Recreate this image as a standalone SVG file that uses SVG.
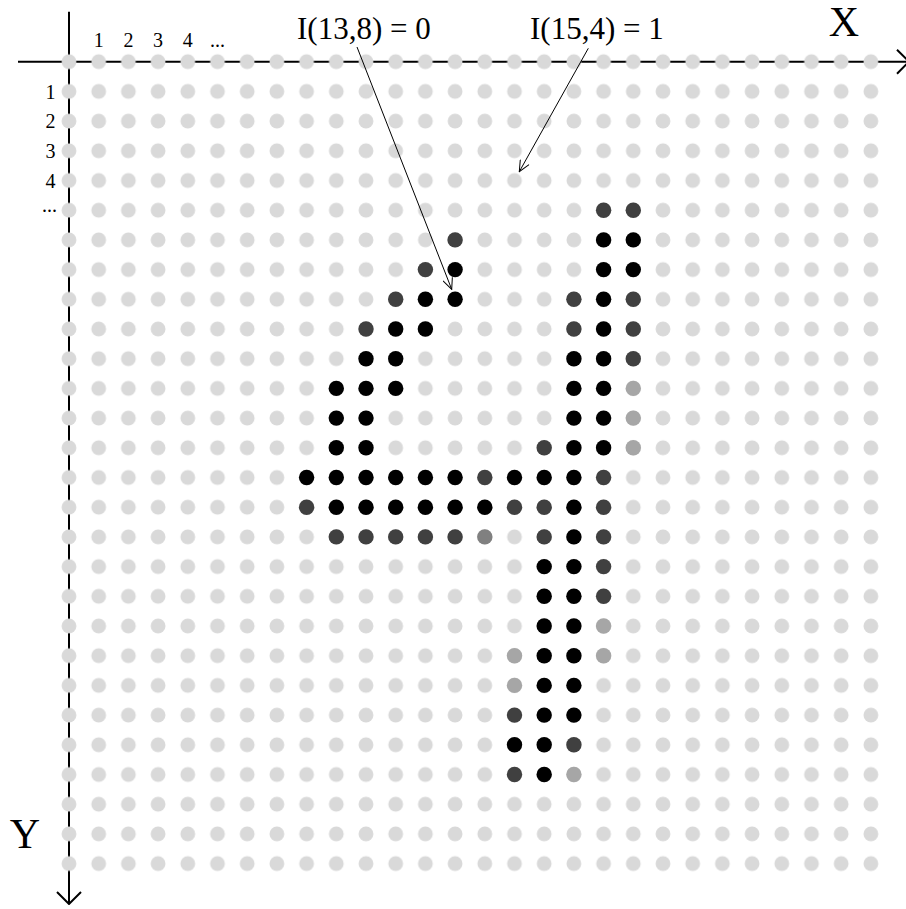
<svg xmlns="http://www.w3.org/2000/svg" width="906" height="909" viewBox="0 0 906 909">
<style>
.ax{stroke:#000;stroke-width:2;fill:none}
.ann{stroke:#000;stroke-width:1;fill:none}
.t{font-family:"Liberation Serif","Times New Roman",serif;fill:#000}
.sm{font-size:20px}
.mid{font-size:31px}
.big{font-size:42px}
.k{fill:#000}
.d{fill:#404040}
.m{fill:#a6a6a6}
.g{fill:#808080}
#pixels circle{r:7.7px}
</style>
<defs>
<pattern id="dot" patternUnits="userSpaceOnUse" x="54.15" y="46.85" width="29.7" height="29.7">
<circle cx="14.85" cy="14.85" r="7.4" fill="#d9d9d9"/>
</pattern>
<marker id="axhead" markerUnits="userSpaceOnUse" viewBox="0 0 14 26" refX="13" refY="13" markerWidth="14" markerHeight="26" orient="auto">
<path d="M1,1 L13,13 L1,25" fill="none" stroke="#000" stroke-width="2"/>
</marker>
<marker id="head" markerUnits="userSpaceOnUse" viewBox="0 0 13 11" refX="12" refY="5.5" markerWidth="13" markerHeight="11" orient="auto">
<path d="M1,0.5 L12,5.5 L1,10.5" fill="none" stroke="#000" stroke-width="1"/>
</marker>
</defs>
<rect width="906" height="909" fill="#fff"/>
<g id="axes">
<line class="ax" x1="18" y1="61.7" x2="909" y2="61.7" marker-end="url(#axhead)"/>
<line class="ax" x1="69" y1="11.7" x2="69" y2="904" marker-end="url(#axhead)"/>
</g>
<g id="grid">
<rect x="54.15" y="46.85" width="831.6" height="831.6" fill="url(#dot)"/>
</g>
<g id="pixels">
<circle class="d" cx="603.6" cy="210.2"/><circle class="d" cx="633.3" cy="210.2"/>
<circle class="d" cx="455.1" cy="239.9"/><circle class="k" cx="603.6" cy="239.9"/><circle class="k" cx="633.3" cy="239.9"/>
<circle class="d" cx="425.4" cy="269.6"/><circle class="k" cx="455.1" cy="269.6"/><circle class="k" cx="603.6" cy="269.6"/><circle class="k" cx="633.3" cy="269.6"/>
<circle class="d" cx="395.7" cy="299.3"/><circle class="k" cx="425.4" cy="299.3"/><circle class="k" cx="455.1" cy="299.3"/><circle class="d" cx="573.9" cy="299.3"/><circle class="k" cx="603.6" cy="299.3"/><circle class="d" cx="633.3" cy="299.3"/>
<circle class="d" cx="366" cy="329"/><circle class="k" cx="395.7" cy="329"/><circle class="k" cx="425.4" cy="329"/><circle class="d" cx="573.9" cy="329"/><circle class="k" cx="603.6" cy="329"/><circle class="d" cx="633.3" cy="329"/>
<circle class="k" cx="366" cy="358.7"/><circle class="k" cx="395.7" cy="358.7"/><circle class="k" cx="573.9" cy="358.7"/><circle class="k" cx="603.6" cy="358.7"/><circle class="d" cx="633.3" cy="358.7"/>
<circle class="k" cx="336.3" cy="388.4"/><circle class="k" cx="366" cy="388.4"/><circle class="k" cx="395.7" cy="388.4"/><circle class="k" cx="573.9" cy="388.4"/><circle class="k" cx="603.6" cy="388.4"/><circle class="m" cx="633.3" cy="388.4"/>
<circle class="k" cx="336.3" cy="418.1"/><circle class="k" cx="366" cy="418.1"/><circle class="k" cx="573.9" cy="418.1"/><circle class="k" cx="603.6" cy="418.1"/><circle class="m" cx="633.3" cy="418.1"/>
<circle class="k" cx="336.3" cy="447.8"/><circle class="k" cx="366" cy="447.8"/><circle class="d" cx="544.2" cy="447.8"/><circle class="k" cx="573.9" cy="447.8"/><circle class="k" cx="603.6" cy="447.8"/><circle class="m" cx="633.3" cy="447.8"/>
<circle class="k" cx="306.6" cy="477.5"/><circle class="k" cx="336.3" cy="477.5"/><circle class="k" cx="366" cy="477.5"/><circle class="k" cx="395.7" cy="477.5"/><circle class="k" cx="425.4" cy="477.5"/><circle class="k" cx="455.1" cy="477.5"/><circle class="d" cx="484.8" cy="477.5"/><circle class="k" cx="514.5" cy="477.5"/><circle class="k" cx="544.2" cy="477.5"/><circle class="k" cx="573.9" cy="477.5"/><circle class="d" cx="603.6" cy="477.5"/>
<circle class="d" cx="306.6" cy="507.2"/><circle class="k" cx="336.3" cy="507.2"/><circle class="k" cx="366" cy="507.2"/><circle class="k" cx="395.7" cy="507.2"/><circle class="k" cx="425.4" cy="507.2"/><circle class="k" cx="455.1" cy="507.2"/><circle class="k" cx="484.8" cy="507.2"/><circle class="d" cx="514.5" cy="507.2"/><circle class="d" cx="544.2" cy="507.2"/><circle class="k" cx="573.9" cy="507.2"/><circle class="d" cx="603.6" cy="507.2"/>
<circle class="d" cx="336.3" cy="536.9"/><circle class="d" cx="366" cy="536.9"/><circle class="d" cx="395.7" cy="536.9"/><circle class="d" cx="425.4" cy="536.9"/><circle class="d" cx="455.1" cy="536.9"/><circle class="g" cx="484.8" cy="536.9"/><circle class="d" cx="544.2" cy="536.9"/><circle class="k" cx="573.9" cy="536.9"/><circle class="d" cx="603.6" cy="536.9"/>
<circle class="k" cx="544.2" cy="566.6"/><circle class="k" cx="573.9" cy="566.6"/><circle class="d" cx="603.6" cy="566.6"/>
<circle class="k" cx="544.2" cy="596.3"/><circle class="k" cx="573.9" cy="596.3"/><circle class="d" cx="603.6" cy="596.3"/>
<circle class="k" cx="544.2" cy="626"/><circle class="k" cx="573.9" cy="626"/><circle class="m" cx="603.6" cy="626"/>
<circle class="m" cx="514.5" cy="655.7"/><circle class="k" cx="544.2" cy="655.7"/><circle class="k" cx="573.9" cy="655.7"/><circle class="m" cx="603.6" cy="655.7"/>
<circle class="m" cx="514.5" cy="685.4"/><circle class="k" cx="544.2" cy="685.4"/><circle class="k" cx="573.9" cy="685.4"/>
<circle class="d" cx="514.5" cy="715.1"/><circle class="k" cx="544.2" cy="715.1"/><circle class="k" cx="573.9" cy="715.1"/>
<circle class="k" cx="514.5" cy="744.8"/><circle class="k" cx="544.2" cy="744.8"/><circle class="d" cx="573.9" cy="744.8"/>
<circle class="d" cx="514.5" cy="774.5"/><circle class="k" cx="544.2" cy="774.5"/><circle class="m" cx="573.9" cy="774.5"/>
</g>
<g id="axis-labels">
<text class="t sm" x="98.7" y="46.7" text-anchor="middle">1</text>
<text class="t sm" x="128.4" y="46.7" text-anchor="middle">2</text>
<text class="t sm" x="158.1" y="46.7" text-anchor="middle">3</text>
<text class="t sm" x="187.8" y="46.7" text-anchor="middle">4</text>
<text class="t sm" x="217.5" y="46.7" text-anchor="middle">...</text>
<text class="t sm" x="55.5" y="98.5" text-anchor="end">1</text>
<text class="t sm" x="55.5" y="128.2" text-anchor="end">2</text>
<text class="t sm" x="55.5" y="157.9" text-anchor="end">3</text>
<text class="t sm" x="55.5" y="187.6" text-anchor="end">4</text>
<text class="t sm" x="57" y="212" text-anchor="end">...</text>
<text class="t big" x="844" y="36" text-anchor="middle">X</text>
<text class="t big" x="25" y="848" text-anchor="middle">Y</text>
</g>
<g id="label-i13-8">
<text class="t mid" x="297" y="39">I(13,8) = 0</text>
</g>
<g id="label-i15-4">
<text class="t mid" x="530" y="39">I(15,4) = 1</text>
</g>
<g id="connectors">
<line class="ann" x1="357" y1="47" x2="451.7" y2="289.3" marker-end="url(#head)"/>
<line class="ann" x1="588.3" y1="48.3" x2="519.3" y2="171.7" marker-end="url(#head)"/>
</g>
</svg>
